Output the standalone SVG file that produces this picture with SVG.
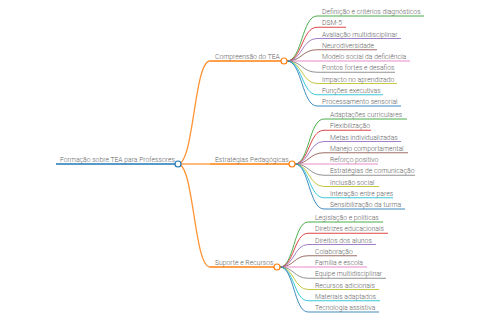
<svg xmlns="http://www.w3.org/2000/svg" width="480" height="320" viewBox="0 0 480 320">
<style>
text{font-family:Roboto,"Liberation Sans",sans-serif;font-size:6.8px;fill:#5f5f5f;font-weight:300}
.l{fill:none;stroke-width:1;stroke-opacity:0.85}
.u line{stroke-width:1;stroke-opacity:0.85}
.c{fill:#fff;stroke-width:1.2}
</style>
<rect width="480" height="320" fill="#fff"/>
<g id="connectors" class="l">
<path d="M178,164 C194,164 194,61 210,61" stroke="#ff7f0e" stroke-width="1.3"/>
<path d="M178,164 L210,164" stroke="#ff7f0e" stroke-width="1.3"/>
<path d="M178,164 C194,164 194,267 210,267" stroke="#ff7f0e" stroke-width="1.3"/>
<path d="M287,61 C302,61 302,16 317,16" stroke="#2ca02c"/>
<path d="M287,61 C302,61 302,27.25 317,27.25" stroke="#d62728"/>
<path d="M287,61 C302,61 302,38.5 317,38.5" stroke="#9467bd"/>
<path d="M287,61 C302,61 302,49.75 317,49.75" stroke="#8c564b"/>
<path d="M287,61 C302,61 302,61 317,61" stroke="#e377c2"/>
<path d="M287,61 C302,61 302,72.25 317,72.25" stroke="#7f7f7f"/>
<path d="M287,61 C302,61 302,83.5 317,83.5" stroke="#bcbd22"/>
<path d="M287,61 C302,61 302,94.75 317,94.75" stroke="#17becf"/>
<path d="M287,61 C302,61 302,106 317,106" stroke="#1f77b4"/>
<path d="M295,164 C309,164 309,119 324,119" stroke="#2ca02c"/>
<path d="M295,164 C309,164 309,130.25 324,130.25" stroke="#d62728"/>
<path d="M295,164 C309,164 309,141.5 324,141.5" stroke="#9467bd"/>
<path d="M295,164 C309,164 309,152.75 324,152.75" stroke="#8c564b"/>
<path d="M295,164 C309,164 309,164 324,164" stroke="#e377c2"/>
<path d="M295,164 C309,164 309,175.25 324,175.25" stroke="#7f7f7f"/>
<path d="M295,164 C309,164 309,186.5 324,186.5" stroke="#bcbd22"/>
<path d="M295,164 C309,164 309,197.75 324,197.75" stroke="#17becf"/>
<path d="M295,164 C309,164 309,209 324,209" stroke="#1f77b4"/>
<path d="M280,267 C294,267 294,222 308,222" stroke="#2ca02c"/>
<path d="M280,267 C294,267 294,233.25 308,233.25" stroke="#d62728"/>
<path d="M280,267 C294,267 294,244.5 308,244.5" stroke="#9467bd"/>
<path d="M280,267 C294,267 294,255.75 308,255.75" stroke="#8c564b"/>
<path d="M280,267 C294,267 294,267 308,267" stroke="#e377c2"/>
<path d="M280,267 C294,267 294,278.25 308,278.25" stroke="#7f7f7f"/>
<path d="M280,267 C294,267 294,289.5 308,289.5" stroke="#bcbd22"/>
<path d="M280,267 C294,267 294,300.75 308,300.75" stroke="#17becf"/>
<path d="M280,267 C294,267 294,312 308,312" stroke="#1f77b4"/>
</g>
<g id="root">
<line x1="56" y1="164" x2="178" y2="164" stroke="#1f77b4" stroke-width="1.5"/>
<text x="60" y="162">Formação sobre TEA para Professores</text>
<circle class="c" cx="178" cy="164" r="3" stroke="#1f77b4"/>
</g>
<g id="b1">
<line x1="210" y1="61" x2="284" y2="61" stroke="#ff7f0e" stroke-width="1.3"/>
<text x="215" y="59">Compreensão do TEA</text>
<circle class="c" cx="284" cy="61" r="3" stroke="#ff7f0e"/>
</g>
<g id="b2">
<line x1="210" y1="164" x2="292" y2="164" stroke="#ff7f0e" stroke-width="1.3"/>
<text x="215" y="162">Estratégias Pedagógicas</text>
<circle class="c" cx="292" cy="164" r="3" stroke="#ff7f0e"/>
</g>
<g id="b3">
<line x1="210" y1="267" x2="277" y2="267" stroke="#ff7f0e" stroke-width="1.3"/>
<text x="215" y="265">Suporte e Recursos</text>
<circle class="c" cx="277" cy="267" r="3" stroke="#ff7f0e"/>
</g>
<g id="b1-leaves" class="u">
<g id="n1-1"><line x1="317" y1="16" x2="424" y2="16" stroke="#2ca02c"/><text x="322" y="14">Definição e critérios diagnósticos</text></g>
<g id="n1-2"><line x1="317" y1="27.25" x2="346" y2="27.25" stroke="#d62728"/><text x="322" y="25.25">DSM-5</text></g>
<g id="n1-3"><line x1="317" y1="38.5" x2="401" y2="38.5" stroke="#9467bd"/><text x="322" y="36.5">Avaliação multidisciplinar</text></g>
<g id="n1-4"><line x1="317" y1="49.75" x2="377" y2="49.75" stroke="#8c564b"/><text x="322" y="47.75">Neurodiversidade</text></g>
<g id="n1-5"><line x1="317" y1="61" x2="410" y2="61" stroke="#e377c2"/><text x="322" y="59">Modelo social da deficiência</text></g>
<g id="n1-6"><line x1="317" y1="72.25" x2="395" y2="72.25" stroke="#7f7f7f"/><text x="322" y="70.25">Pontos fortes e desafios</text></g>
<g id="n1-7"><line x1="317" y1="83.5" x2="397" y2="83.5" stroke="#bcbd22"/><text x="322" y="81.5">Impacto no aprendizado</text></g>
<g id="n1-8"><line x1="317" y1="94.75" x2="383" y2="94.75" stroke="#17becf"/><text x="322" y="92.75">Funções executivas</text></g>
<g id="n1-9"><line x1="317" y1="106" x2="401" y2="106" stroke="#1f77b4"/><text x="322" y="104">Processamento sensorial</text></g>
</g>
<g id="b2-leaves" class="u">
<g id="n2-1"><line x1="324" y1="119" x2="407" y2="119" stroke="#2ca02c"/><text x="330" y="117">Adaptações curriculares</text></g>
<g id="n2-2"><line x1="324" y1="130.25" x2="371" y2="130.25" stroke="#d62728"/><text x="330" y="128.25">Flexibilização</text></g>
<g id="n2-3"><line x1="324" y1="141.5" x2="401" y2="141.5" stroke="#9467bd"/><text x="330" y="139.5">Metas individualizadas</text></g>
<g id="n2-4"><line x1="324" y1="152.75" x2="408" y2="152.75" stroke="#8c564b"/><text x="330" y="150.75">Manejo comportamental</text></g>
<g id="n2-5"><line x1="324" y1="164" x2="378" y2="164" stroke="#e377c2"/><text x="330" y="162">Reforço positivo</text></g>
<g id="n2-6"><line x1="324" y1="175.25" x2="415" y2="175.25" stroke="#7f7f7f"/><text x="330" y="173.25">Estratégias de comunicação</text></g>
<g id="n2-7"><line x1="324" y1="186.5" x2="379" y2="186.5" stroke="#bcbd22"/><text x="330" y="184.5">Inclusão social</text></g>
<g id="n2-8"><line x1="324" y1="197.75" x2="393" y2="197.75" stroke="#17becf"/><text x="330" y="195.75">Interação entre pares</text></g>
<g id="n2-9"><line x1="324" y1="209" x2="405" y2="209" stroke="#1f77b4"/><text x="330" y="207">Sensibilização da turma</text></g>
</g>
<g id="b3-leaves" class="u">
<g id="n3-1"><line x1="308" y1="222" x2="383" y2="222" stroke="#2ca02c"/><text x="315" y="220">Legislação e políticas</text></g>
<g id="n3-2"><line x1="308" y1="233.25" x2="388" y2="233.25" stroke="#d62728"/><text x="315" y="231.25">Diretrizes educacionais</text></g>
<g id="n3-3"><line x1="308" y1="244.5" x2="376" y2="244.5" stroke="#9467bd"/><text x="315" y="242.5">Direitos dos alunos</text></g>
<g id="n3-4"><line x1="308" y1="255.75" x2="357" y2="255.75" stroke="#8c564b"/><text x="315" y="253.75">Colaboração</text></g>
<g id="n3-5"><line x1="308" y1="267" x2="367" y2="267" stroke="#e377c2"/><text x="315" y="265">Família e escola</text></g>
<g id="n3-6"><line x1="308" y1="278.25" x2="386" y2="278.25" stroke="#7f7f7f"/><text x="315" y="276.25">Equipe multidisciplinar</text></g>
<g id="n3-7"><line x1="308" y1="289.5" x2="379" y2="289.5" stroke="#bcbd22"/><text x="315" y="287.5">Recursos adicionais</text></g>
<g id="n3-8"><line x1="308" y1="300.75" x2="380" y2="300.75" stroke="#17becf"/><text x="315" y="298.75">Materiais adaptados</text></g>
<g id="n3-9"><line x1="308" y1="312" x2="379" y2="312" stroke="#1f77b4"/><text x="315" y="310">Tecnologia assistiva</text></g>
</g>
</svg>
